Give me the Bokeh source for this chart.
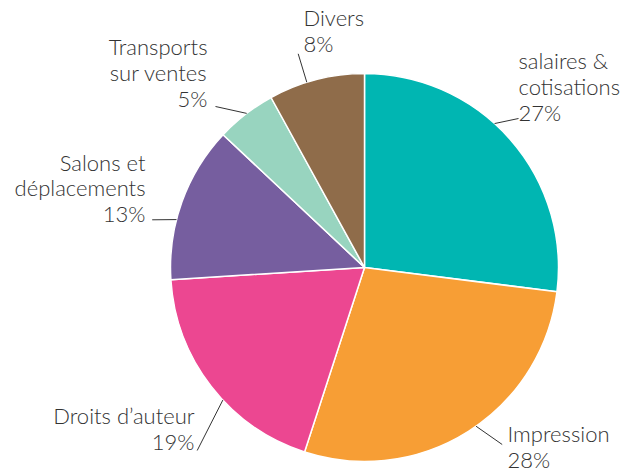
import numpy as np
from bokeh.plotting import figure
from bokeh.models import Range1d, ColumnDataSource
from bokeh.core.properties import value
from bokeh.embed import file_html
from bokeh.resources import INLINE

# ---- data ----
categories = ["salaires &\ncotisations", "Impression", "Droits d’auteur",
              "Salons et\ndéplacements", "Transports\nsur ventes", "Divers"]
shares = [27, 28, 19, 13, 5, 8]
colors = ["#00B6B2", "#F79E35", "#EC4791", "#765E9F", "#98D4BF", "#8F6C4A"]

# ---- layout (pixel space of the picture) ----
W, H = 621, 473
def Y(img_y):
    return H - img_y
def X(img_x):
    return img_x

CX, CY, R = X(364), Y(267), 194
# label anchors (x, block-centre y in image px), alignment
label_pos = [(518, 86, "left"), (507, 446, "left"), (194, 428, "right"),
             (145, 187.5, "right"), (207, 72, "right"), (303, 30, "left")]
# leader: angle nudge (deg) from slice middle, outer end point (image px)
leader_nudge = [-6.5, -2.7, -5.3, -5.5, 0.4, -2.9]
leader_end = [(518, 118), (501.7, 444), (196.7, 450), (151.7, 219.3),
              (215, 106), (297.7, 53.3)]

total = float(sum(shares))
frac = np.array(shares) / total
cum = np.concatenate([[0], np.cumsum(frac)])
start = np.pi / 2 - 2 * np.pi * cum[:-1]
end = np.pi / 2 - 2 * np.pi * cum[1:]

p = figure(width=W, height=H, x_range=Range1d(0, W), y_range=Range1d(0, H),
           output_backend="svg", toolbar_location=None, min_border=0)
p.axis.visible = False
p.grid.visible = False
p.outline_line_color = None
p.background_fill_color = "white"

src = ColumnDataSource(dict(start=start, end=end, color=colors))
p.wedge(x=CX, y=CY, radius=R, start_angle="start", end_angle="end", direction="clock",
        fill_color="color", line_color="white", line_width=1.5, source=src)

# leader lines
xs, ys = [], []
for i in range(len(shares)):
    mid_deg = 360 * (cum[i] + cum[i + 1]) / 2 + leader_nudge[i]  # clockwise from top
    a = np.deg2rad(mid_deg)
    x0 = CX + R * np.sin(a)
    y0 = CY + R * np.cos(a)
    ex, ey = leader_end[i]
    xs.append([x0, X(ex)])
    ys.append([y0, Y(ey)])
p.multi_line(xs=xs, ys=ys, line_color="#333333", line_width=1)

# labels
texts = [f"{c}\n{s}%" for c, s in zip(categories, shares)]
for align in ("left", "right"):
    idx = [i for i, lp in enumerate(label_pos) if lp[2] == align]
    p.text(x=[X(label_pos[i][0]) for i in idx], y=[Y(label_pos[i][1]) for i in idx],
           text=[texts[i] for i in idx], text_align=align, text_baseline="middle",
           text_font=value("Lato Light, Lato"), text_font_size="22px", text_line_height=0.95,
           text_color="#333333")

open("out.html", "w").write(file_html(p, INLINE))
